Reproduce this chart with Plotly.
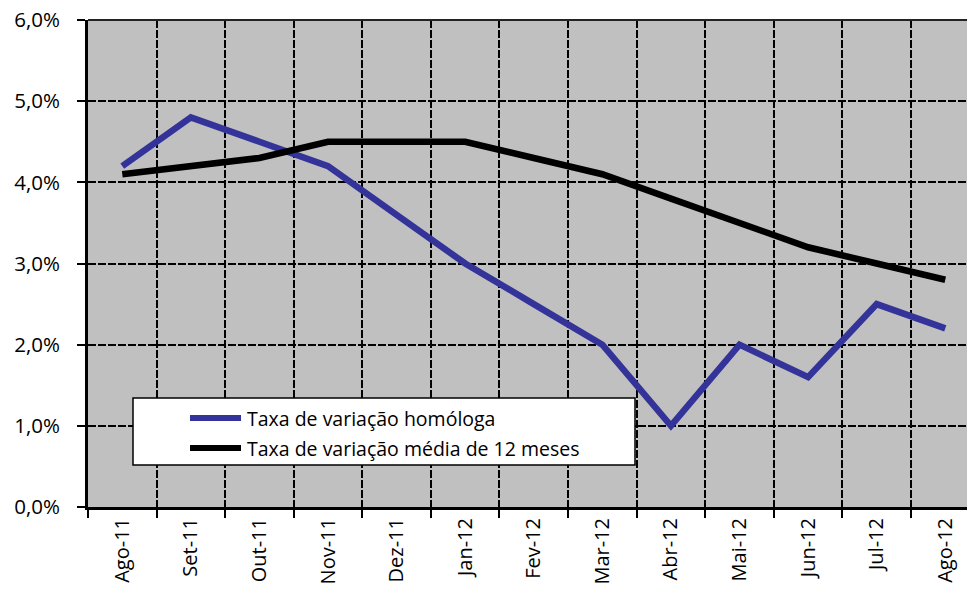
import plotly.graph_objects as go

months = ["Ago-11", "Set-11", "Out-11", "Nov-11", "Dez-11", "Jan-12", "Fev-12",
          "Mar-12", "Abr-12", "Mai-12", "Jun-12", "Jul-12", "Ago-12"]
homologa = [4.2, 4.8, 4.5, 4.2, 3.6, 3.0, 2.5, 2.0, 1.0, 2.0, 1.6, 2.5, 2.2]
media12 = [4.1, 4.2, 4.3, 4.5, 4.5, 4.5, 4.3, 4.1, 3.8, 3.5, 3.2, 3.0, 2.8]
series_names = ["Taxa de variação homóloga", "Taxa de variação média de 12 meses"]
series_colors = ["#333399", "#000000"]
y_ticks = [0, 1, 2, 3, 4, 5, 6]
y_tick_labels = ["0,0%", "1,0%", "2,0%", "3,0%", "4,0%", "5,0%", "6,0%"]

FONT = "Open Sans"

fig = go.Figure()
for vals, name, col in zip([homologa, media12], series_names, series_colors):
    fig.add_trace(go.Scatter(x=months, y=vals, mode="lines", name=name,
                             line=dict(color=col, width=6.5), showlegend=False))

# page has an 8px body margin; figure coordinates are offset by it
OFF = 8
W, H = 975 - OFF, 594 - OFF
L, T, B = 88 - OFF, 20 - OFF, 87
pw, ph = W - L, H - T - B

def px(x):  # window pixel -> paper
    return (x - OFF - L) / pw

def py(y):
    return (H - B - (y - OFF)) / ph

shapes = [
    dict(type="rect", xref="paper", yref="paper", x0=px(133), x1=px(635), y0=py(465), y1=py(398),
         fillcolor="white", line=dict(color="black", width=1.5), layer="above"),
]
annotations = []
for i, (name, col) in enumerate(zip(series_names, series_colors)):
    yy = [418, 448][i]
    shapes.append(dict(type="line", xref="paper", yref="paper", x0=px(190), x1=px(241),
                       y0=py(yy), y1=py(yy), line=dict(color=col, width=6), layer="above"))
    annotations.append(dict(xref="paper", yref="paper", x=px(245), y=py(yy), text=name,
                            showarrow=False, xanchor="left", yanchor="middle",
                            font=dict(family=FONT, size=19.5, color="black")))

# extra top border line
shapes.append(dict(type="line", xref="paper", yref="paper", x0=0, x1=1, y0=1, y1=1,
                   line=dict(color="#222", width=2), layer="above"))

spacing = 69.2
right_range = -0.5 + (pw + OFF) / spacing

fig.update_layout(
    width=W, height=H,
    margin=dict(l=L, r=0, t=T, b=B),
    paper_bgcolor="white",
    plot_bgcolor="#c0c0c0",
    font=dict(family=FONT, size=20, color="black"),
    shapes=shapes,
    annotations=annotations,
    xaxis=dict(
        type="category", range=[-0.5, right_range], tickson="boundaries",
        showgrid=True, gridcolor="black", gridwidth=1.5, griddash="8px,2px",
        showline=True, linecolor="black", linewidth=3,
        ticks="outside", ticklen=8, tickwidth=2, tickcolor="black",
        tickangle=-90, tickfont=dict(family=FONT, size=20),
        zeroline=False, automargin=False, ticklabeloverflow="allow",
    ),
    yaxis=dict(
        range=[0, 6], tickvals=y_ticks, ticktext=y_tick_labels,
        showgrid=True, gridcolor="black", gridwidth=1.5, griddash="8px,2px",
        showline=True, linecolor="black", linewidth=3,
        ticks="outside", ticklen=8, tickwidth=2, tickcolor="black",
        ticklabelstandoff=13, tickfont=dict(family=FONT, size=20.5),
        zeroline=False, automargin=False, ticklabeloverflow="allow",
    ),
)

fig.write_html("out.html")
